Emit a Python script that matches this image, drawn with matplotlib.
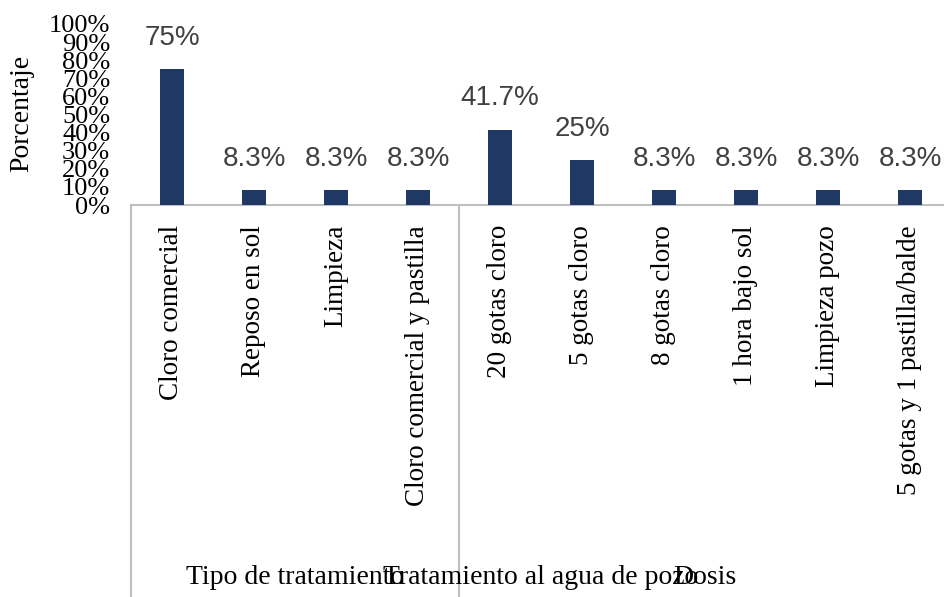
import matplotlib
matplotlib.use("Agg")
import matplotlib.pyplot as plt
from matplotlib.transforms import blended_transform_factory

categories = ["Cloro comercial", "Reposo en sol", "Limpieza", "Cloro comercial y pastilla",
              "20 gotas cloro", "5 gotas cloro", "8 gotas cloro", "1 hora bajo sol",
              "Limpieza pozo", "5 gotas y 1 pastilla/balde"]
values = [75, 8.3, 8.3, 8.3, 41.7, 25, 8.3, 8.3, 8.3, 8.3]
value_labels = ["75%", "8.3%", "8.3%", "8.3%", "41.7%", "25%", "8.3%", "8.3%", "8.3%", "8.3%"]
group_labels = ["Tipo de tratamiento", "Tratamiento al agua de pozo", "Dosis"]
group_centers = [1.5, 4.5, 6.5]
yticks = list(range(0, 101, 10))
ytick_labels = [f"{v}%" for v in yticks]

serif = "Liberation Serif"
W, H = 945, 597
fig = plt.figure(figsize=(W / 100, H / 100), dpi=100)
left_px, right_px = 131, 945
top_px, bottom_px = 24, 205
ax = fig.add_axes([left_px / W, (H - bottom_px) / H, (right_px - left_px) / W, (bottom_px - top_px) / H])

x = list(range(len(categories)))
ax.bar(x, values, width=0.29, color="#203864", zorder=3)
for xi, v, lab in zip(x, values, value_labels):
    ax.annotate(lab, (xi, v), xytext=(0, 13), textcoords="offset points",
                ha="center", va="bottom", fontsize=20, family="Liberation Sans", color="#404040")

ax.set_xlim(-0.5, -0.5 + (right_px - left_px) / 82)
ax.set_ylim(0, 100)
ax.set_yticks(yticks)
ax.set_yticklabels(ytick_labels, fontsize=19, family=serif)
ax.tick_params(axis="y", length=0, pad=15)
ax.set_xticks([])
for s in ["top", "right", "left"]:
    ax.spines[s].set_visible(False)
ax.spines["bottom"].set_color("#BFBFBF")
ax.spines["bottom"].set_linewidth(1.5)
ax.set_ylabel("Porcentaje", fontsize=20, family=serif)
ax.yaxis.label.set_verticalalignment("center")
ax.yaxis.set_label_coords(-(131 - 22) / (right_px - left_px), (205 - 113) / (bottom_px - top_px))

# category labels (rotated)
trans = blended_transform_factory(ax.transData, fig.transFigure)
for xi, c in zip(x, categories):
    ax.text(xi, (H - 225) / H, c, rotation=90, ha="center", va="top", fontsize=19.5,
            family=serif, transform=trans, clip_on=False)

# group separators
for xs in [-0.5, 3.5]:
    ax.plot([xs, xs], [(H - 205) / H, 0], color="#BFBFBF", lw=1.5, transform=trans, clip_on=False)

# group labels
for gc, gl in zip(group_centers, group_labels):
    ax.text(gc, (H - 577) / H, gl, ha="center", va="center", fontsize=20, family=serif,
            transform=trans, clip_on=False)

fig.savefig("out.png", dpi=100)
